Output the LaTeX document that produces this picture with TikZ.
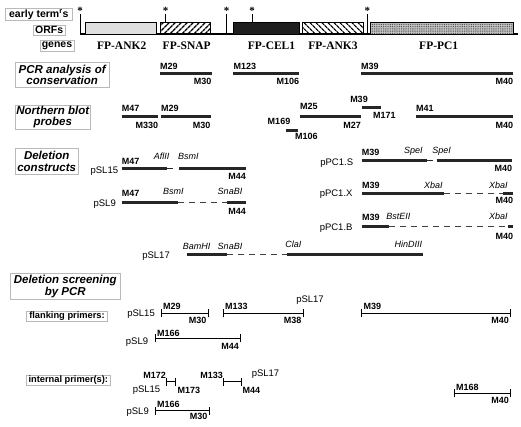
\documentclass[tikz,border=0pt]{standalone}
\usepackage{fontspec}
\setmainfont{Liberation Serif}
\setsansfont{Liberation Sans}
\usetikzlibrary{patterns.meta}
\newcommand{\scrbar}[4]{%
  \draw[scr] (#1,#3) coordinate (#4a) -- (#2,#3) coordinate (#4b);
  \draw[scr] ([yshift=-4pt]#4a) -- ([yshift=4pt]#4a);
  \draw[scr] ([yshift=-4pt]#4b) -- ([yshift=4pt]#4b);}
\begin{document}
\begin{tikzpicture}[x=1pt,y=-1pt,
  mlab/.style={font=\sffamily\bfseries\fontsize{9}{9}\selectfont, inner sep=0pt, text height=6.5pt, text depth=0pt},
  enz/.style={font=\sffamily\itshape\fontsize{9}{9}\selectfont, inner sep=0pt, text height=6.5pt, text depth=0pt},
  plas/.style={font=\sffamily\fontsize{9.5}{9.5}\selectfont, inner sep=0pt, text height=6.8pt, text depth=0pt},
  gene/.style={font=\bfseries\fontsize{11.5}{11.5}\selectfont, inner sep=0pt},
  star/.style={font=\bfseries\fontsize{11}{11}\selectfont, inner sep=0pt},
  thickbar/.style={line width=3pt, draw=black!85},
  thinbar/.style={line width=1pt, draw=black!85},
  dashbar/.style={line width=1.2pt, draw=black!75, dash pattern=on 6pt off 5pt},
  scr/.style={line width=0.9pt},
  secbox/.style={draw=gray!55, line width=0.6pt, font=\sffamily\bfseries\itshape\fontsize{11.5}{11.7}\selectfont, align=center, inner sep=0pt},
  keybox/.style={draw=gray!55, line width=0.6pt, font=\sffamily\bfseries\fontsize{10.5}{10.5}\selectfont, inner sep=0pt},
  primbox/.style={draw=gray!55, line width=0.6pt, font=\sffamily\bfseries\fontsize{9.3}{9.3}\selectfont, inner sep=0pt},
  orf/.style={draw=black, line width=0.6pt},
  tick/.style={line width=1pt}
]
\useasboundingbox (0,0) rectangle (521,426);

% ---------- key boxes ----------
\node[keybox, minimum width=67.7pt, minimum height=11.7pt] (kterm) at (38.8,14.2) {early term\textsuperscript{r}s};
\node[keybox, minimum width=31.7pt, minimum height=10pt] (korf) at (49.2,30) {ORFs};
\node[keybox, minimum width=34pt, minimum height=11pt] (kgene) at (57,46.2) {genes};

% ---------- map ----------
\draw[line width=1.2pt] (80,34) coordinate (m0) -- (518,34) coordinate (m1);
\draw[orf, fill=gray!25] (85.6,22.7) rectangle (156.7,34);
\draw[orf, pattern={Lines[angle=45,distance=4pt,line width=1.4pt]}] (160.7,22.7) rectangle (210,34);
\draw[orf, fill=black!88] (233.3,22.7) rectangle (299.3,34);
\draw[orf, pattern={Lines[angle=-45,distance=4pt,line width=1.4pt]}] (302.7,22.7) rectangle (363.3,34);
\fill[gray!45] (370,22.7) rectangle (513.3,34);
\draw[orf, pattern={Dots[distance=1.8pt,radius=0.55pt]}, pattern color=black!70] (370,22.7) rectangle (513.3,34);
\draw[tick] (80,14) -- (80,34);
\draw[tick] (165.7,14) -- (165.7,22.7);
\draw[tick] (226.7,14) -- (226.7,34);
\draw[tick] (252,14) -- (252,22.7);
\draw[tick] (367.3,14) -- (367.3,34);
\node[star] (s1) at (80,10.8) {*};
\node[star] (s2) at (165.7,10.8) {*};
\node[star] (s3) at (226.7,10.8) {*};
\node[star] (s4) at (252,10.8) {*};
\node[star] (s5) at (367.3,10.8) {*};
\node[gene] (g1) at (121.7,46) {FP-ANK2};
\node[gene] (g2) at (186.7,46) {FP-SNAP};
\node[gene] (g3) at (271.5,46) {FP-CEL1};
\node[gene] (g4) at (333,46) {FP-ANK3};
\node[gene] (g5) at (438.7,46) {FP-PC1};

% ---------- section boxes ----------
\node[secbox, minimum width=94.3pt, minimum height=25.4pt] (sec1) at (62.2,75) {PCR analysis of\\conservation};
\node[secbox, minimum width=75.7pt, minimum height=24pt] (sec2) at (52.8,117) {Northern blot\\probes};
\node[secbox, minimum width=63.3pt, minimum height=26pt] (sec3) at (46.7,161.2) {Deletion\\constructs};
\node[secbox, minimum width=110.7pt, minimum height=26pt] (sec4) at (65.3,286.3) {Deletion screening\\by PCR};
\node[primbox, minimum width=80.6pt, minimum height=9.5pt] (flank) at (67,316.3) {flanking primers:};
\node[primbox, minimum width=84.7pt, minimum height=10pt] (intern) at (68.3,380) {internal primer(s):};

% ---------- PCR analysis ----------
\draw[thickbar] (160,73.5) -- (211.7,73.5);
\node[mlab, anchor=west] (p1) at (160,66.7) {M29};
\node[mlab, anchor=east] (p2) at (211.7,81) {M30};
\draw[thickbar] (233.3,73.5) -- (299.3,73.5);
\node[mlab, anchor=west] (p3) at (233.3,66.7) {M123};
\node[mlab, anchor=east] (p4) at (299.3,81.5) {M106};
\draw[thickbar] (361,73.5) -- (513.3,73.5);
\node[mlab, anchor=west] (p5) at (361,66.7) {M39};
\node[mlab, anchor=east] (p6) at (513.3,81.5) {M40};

% ---------- Northern blot ----------
\draw[thickbar] (121.7,116) -- (158.3,116);
\node[mlab, anchor=west] (n1) at (121.7,108.3) {M47};
\node[mlab, anchor=east] (n2) at (158.3,125) {M330};
\draw[thickbar] (161,116) -- (210.7,116);
\node[mlab, anchor=west] (n3) at (161,108.3) {M29};
\node[mlab, anchor=east] (n4) at (210.7,125) {M30};
\draw[thickbar] (300,116) -- (361,116);
\node[mlab, anchor=west] (n5) at (300,106.7) {M25};
\node[mlab, anchor=east] (n6) at (361,125.7) {M27};
\draw[thickbar] (286,130) -- (297.7,130);
\node[mlab] (n7) at (279,121) {M169};
\node[mlab, anchor=west] (n8) at (295,136.7) {M106};
\draw[thickbar] (361.7,107.7) -- (380.7,107.7);
\node[mlab] (n9) at (359,99.3) {M39};
\node[mlab, anchor=west] (n10) at (373,115) {M171};
\draw[thickbar] (416,116) -- (513.3,116);
\node[mlab, anchor=west] (n11) at (416,108.3) {M41};
\node[mlab, anchor=east] (n12) at (513.3,125.7) {M40};

% ---------- Deletion constructs ----------
% pSL15
\node[plas, anchor=east] (d1) at (118.3,170.2) {pSL15};
\draw[thickbar] (121.7,168.3) -- (166.7,168.3);
\draw[thinbar] (166.7,168.3) -- (173.3,168.3);
\draw[thickbar] (179,168.3) -- (246,168.3);
\node[mlab, anchor=west] (d1a) at (121.7,161.7) {M47};
\node[enz] (d1b) at (161.7,156.7) {AflII};
\node[enz] (d1c) at (188.3,156.7) {BsmI};
\node[mlab, anchor=east] (d1d) at (246,176) {M44};
% pSL9
\node[plas, anchor=east] (d2) at (116,203.3) {pSL9};
\draw[thickbar] (121.7,202.7) -- (178.3,202.7);
\draw[dashbar] (178.3,202.7) -- (226.7,202.7);
\draw[thickbar] (226.7,202.7) -- (246,202.7);
\node[mlab, anchor=west] (d2a) at (121.7,193.3) {M47};
\node[enz] (d2b) at (173.3,191.7) {BsmI};
\node[enz] (d2c) at (230,191.7) {SnaBI};
\node[mlab, anchor=east] (d2d) at (246,211.7) {M44};
% pSL17
\node[plas, anchor=east] (d3) at (170,255) {pSL17};
\draw[thickbar] (186.7,254.5) -- (226.7,254.5);
\draw[dashbar] (226.7,254.5) -- (286.7,254.5);
\draw[thickbar] (286.7,254.5) -- (423.3,254.5);
\node[enz] (d3a) at (196.7,246) {BamHI};
\node[enz] (d3b) at (230,246) {SnaBI};
\node[enz] (d3c) at (293.3,244) {ClaI};
\node[enz] (d3d) at (408.3,244) {HinDIII};
% pPC1.S
\node[plas, anchor=east] (d4) at (353.3,161.7) {pPC1.S};
\draw[thickbar] (361.7,160.7) -- (426.7,160.7);
\draw[thinbar] (426.7,160.7) -- (433.3,160.7);
\draw[thickbar] (436.7,160.7) -- (512.3,160.7);
\node[mlab, anchor=west] (d4a) at (361.7,152.7) {M39};
\node[enz] (d4b) at (413.3,149.8) {SpeI};
\node[enz] (d4c) at (441.7,149.8) {SpeI};
\node[mlab, anchor=east] (d4d) at (512.3,168.3) {M40};
% pPC1.X
\node[plas, anchor=east] (d5) at (352.7,193.3) {pPC1.X};
\draw[thickbar] (362.3,193.3) -- (444,193.3);
\draw[dashbar] (444,193.3) -- (503.3,193.3);
\draw[thickbar] (503.3,193.3) -- (513.3,193.3);
\node[mlab, anchor=west] (d5a) at (362,185) {M39};
\node[enz] (d5b) at (433.3,185) {XbaI};
\node[enz] (d5c) at (498.3,185) {XbaI};
\node[mlab, anchor=east] (d5d) at (513.3,200.5) {M40};
% pPC1.B
\node[plas, anchor=east] (d6) at (352.7,226.7) {pPC1.B};
\draw[thickbar] (362.3,226.7) -- (389.3,226.7);
\draw[dashbar] (389.3,226.7) -- (508.3,226.7);
\draw[thickbar] (508.3,226.7) -- (513.3,226.7);
\node[mlab, anchor=west] (d6a) at (362,217.7) {M39};
\node[enz] (d6b) at (398.3,216.7) {BstEII};
\node[enz] (d6c) at (498.3,216.7) {XbaI};
\node[mlab, anchor=east] (d6d) at (513.3,236.7) {M40};

% ---------- Deletion screening: flanking ----------
\node[plas, anchor=east] (f1) at (155,313.3) {pSL15};
\scrbar{161.7}{208.3}{313.3}{fa}
\node[mlab, anchor=west] (f1a) at (163,306.7) {M29};
\node[mlab, anchor=east] (f1b) at (206.5,320) {M30};
\scrbar{223.3}{303.3}{313.3}{fb}
\node[mlab, anchor=west] (f2a) at (225,306.7) {M133};
\node[mlab, anchor=east] (f2b) at (301.5,320) {M38};
\node[plas] (f2) at (310,299.3) {pSL17};
\scrbar{361.7}{510.7}{313.3}{fc}
\node[mlab, anchor=west] (f3a) at (363.5,306.7) {M39};
\node[mlab, anchor=east] (f3b) at (509,320) {M40};
\node[plas, anchor=east] (f4) at (148.3,340.7) {pSL9};
\scrbar{155}{240.7}{338.3}{fd}
\node[mlab, anchor=west] (f4a) at (157,333.3) {M166};
\node[mlab, anchor=east] (f4b) at (239,346) {M44};

% ---------- Deletion screening: internal ----------
\scrbar{166.7}{175.7}{381.7}{ia}
\node[mlab, anchor=east] (i1a) at (166,375) {M172};
\node[plas] (i1) at (146.5,389.3) {pSL15};
\node[mlab, anchor=west] (i1b) at (177.3,390) {M173};
\scrbar{223.3}{241.7}{381.7}{ib}
\node[mlab, anchor=east] (i2a) at (223,375) {M133};
\node[mlab, anchor=west] (i2b) at (242.3,390) {M44};
\node[plas] (i2) at (265.5,373.3) {pSL17};
\node[plas, anchor=east] (i3) at (149,411) {pSL9};
\scrbar{155}{209}{410.5}{ic}
\node[mlab, anchor=west] (i3a) at (157,404.3) {M166};
\node[mlab, anchor=east] (i3b) at (207.5,416.5) {M30};
\scrbar{454.3}{510.7}{393.3}{id}
\node[mlab, anchor=west] (i4a) at (456,386.8) {M168};
\node[mlab, anchor=east] (i4b) at (509,400) {M40};
\end{tikzpicture}
\end{document}
